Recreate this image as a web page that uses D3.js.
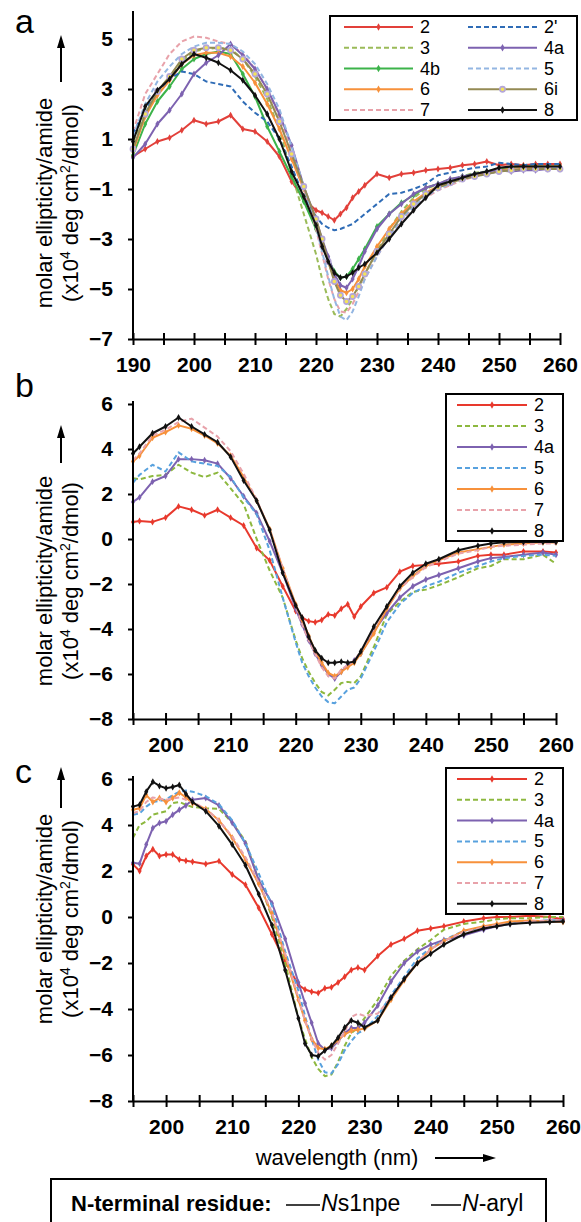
<!DOCTYPE html>
<html>
<head>
<meta charset="utf-8">
<script src="https://cdn.jsdelivr.net/npm/d3@7"></script>
<style>
  body { margin: 0; background: #fff; }
  svg text { font-family: "Liberation Sans", Arial, sans-serif; }
</style>
</head>
<body>
<svg id="chart" width="581" height="1222"></svg>
<script>
// ---- panel a (wavelength in nm, ellipticity in 10^4 deg cm2/dmol) ----
const aWl = [190,192,194,196,198,200,202,204,206,208,210,212,214,216,218,220,221,222,223,224,225,226,227,228,230,232,234,236,238,240,242,244,246,248,250,252,254,256,258,260];
const aNames = ["2", "2'", "3", "4a", "4b", "5", "6", "6i", "7", "8"];
const a2   = [0.3,0.6,0.9,1.05,1.35,1.75,1.6,1.7,1.95,1.4,1.3,0.9,0.3,-0.7,-1.4,-1.85,-1.95,-2.1,-2.25,-2.0,-1.75,-1.35,-1.1,-0.85,-0.4,-0.55,-0.4,-0.35,-0.25,-0.2,-0.15,-0.05,0.0,0.1,-0.05,0.0,-0.05,0.0,0.0,0.0];
const a2p  = [1.2,2.2,2.9,3.4,3.7,3.6,3.3,3.2,3.1,2.5,2.05,1.7,1.0,-0.1,-1.3,-2.1,-2.4,-2.55,-2.65,-2.6,-2.5,-2.4,-2.2,-2.0,-1.6,-1.2,-1.15,-1.0,-0.8,-0.45,-0.35,-0.25,-0.15,-0.1,0.05,0.0,-0.05,0.0,0.0,0.0];
const a3   = [0.9,2.0,2.9,3.5,4.1,4.5,4.6,4.65,4.6,4.2,3.5,2.6,1.4,-0.4,-2.0,-3.6,-4.6,-5.4,-6.0,-6.1,-5.8,-5.4,-4.9,-4.4,-3.5,-2.6,-1.9,-1.35,-1.0,-0.8,-0.6,-0.5,-0.35,-0.3,-0.2,-0.15,-0.15,-0.1,-0.1,-0.1];
const a4a  = [0.25,0.8,1.6,2.15,2.8,3.6,4.05,4.35,4.8,4.35,3.8,3.0,2.0,0.75,-0.9,-2.2,-3.0,-3.7,-4.4,-4.85,-4.95,-4.6,-4.1,-3.5,-2.6,-2.0,-1.6,-1.2,-0.95,-0.8,-0.6,-0.5,-0.4,-0.3,-0.25,-0.3,-0.25,-0.25,-0.2,-0.2];
const a4b  = [0.35,1.6,2.5,3.1,3.8,4.2,4.4,4.5,4.4,3.6,2.7,1.5,0.5,-0.5,-1.5,-2.6,-3.2,-3.8,-4.3,-4.55,-4.5,-4.2,-3.8,-3.4,-2.5,-2.0,-1.55,-1.25,-0.95,-0.8,-0.65,-0.5,-0.4,-0.3,-0.2,-0.15,-0.1,-0.1,-0.1,-0.1];
const a5   = [1.1,2.4,3.3,3.9,4.4,4.7,4.85,4.85,4.8,4.5,4.0,3.2,2.2,0.7,-0.9,-2.5,-3.5,-4.5,-5.4,-6.1,-6.25,-5.9,-5.3,-4.6,-3.7,-2.9,-2.2,-1.7,-1.3,-1.0,-0.8,-0.6,-0.5,-0.4,-0.3,-0.25,-0.2,-0.2,-0.15,-0.15];
const a6   = [0.5,1.9,2.75,3.35,4.0,4.35,4.45,4.45,4.3,3.9,3.25,2.4,1.4,0.2,-1.0,-2.3,-3.1,-3.9,-4.6,-5.05,-5.15,-5.0,-4.6,-4.1,-3.3,-2.6,-2.0,-1.5,-1.15,-0.9,-0.7,-0.55,-0.45,-0.35,-0.25,-0.2,-0.15,-0.1,-0.1,-0.1];
const a6i  = [0.6,2.0,2.9,3.5,4.2,4.55,4.65,4.65,4.55,4.2,3.6,2.8,1.7,0.4,-0.9,-2.2,-3.0,-3.9,-4.7,-5.25,-5.5,-5.3,-4.9,-4.4,-3.5,-2.8,-2.1,-1.6,-1.2,-0.95,-0.75,-0.6,-0.5,-0.4,-0.3,-0.25,-0.2,-0.2,-0.2,-0.2];
const a7   = [1.3,2.8,3.6,4.4,4.9,5.1,5.05,4.9,4.8,4.4,3.8,3.0,1.9,0.5,-1.0,-2.6,-3.6,-4.6,-5.4,-5.9,-5.95,-5.6,-5.1,-4.6,-3.7,-2.9,-2.25,-1.75,-1.35,-1.05,-0.85,-0.65,-0.5,-0.4,-0.3,-0.25,-0.2,-0.2,-0.15,-0.15];
const a8   = [0.9,2.3,2.95,3.4,4.0,4.4,4.25,4.05,3.75,3.35,2.75,2.0,1.0,-0.3,-1.3,-2.45,-3.3,-3.9,-4.35,-4.55,-4.5,-4.35,-4.15,-4.0,-3.55,-3.0,-2.4,-1.85,-1.35,-0.85,-0.7,-0.55,-0.4,-0.3,-0.15,-0.1,-0.1,-0.1,-0.1,-0.1];
const aYTicks = [5, 3, 1, -1, -3, -5, -7];

// ---- panel b ----
const bWl = [195,196,198,200,202,204,206,208,210,212,214,216,218,220,221,222,223,224,225,226,227,228,229,230,232,234,236,238,240,242,245,248,250,252,255,258,260];
const bNames = ["2", "3", "4a", "5", "6", "7", "8"];
const b2  = [0.76,0.8,0.76,0.95,1.45,1.3,1.05,1.3,0.95,0.6,-0.4,-0.95,-2.1,-3.2,-3.5,-3.65,-3.7,-3.6,-3.35,-3.4,-3.1,-2.9,-3.45,-3.0,-2.4,-2.15,-1.45,-1.2,-1.15,-1.1,-1.0,-0.75,-0.7,-0.7,-0.55,-0.55,-0.6];
const b3  = [2.7,2.65,2.8,2.85,3.3,2.95,2.75,2.95,2.25,1.55,0.0,-1.4,-2.6,-4.5,-5.3,-5.9,-6.4,-6.8,-6.95,-6.7,-6.4,-6.35,-6.4,-6.1,-4.8,-3.35,-2.8,-2.35,-2.25,-2.05,-1.7,-1.3,-1.2,-0.9,-0.9,-0.7,-1.1];
const b4a = [1.65,1.85,2.55,2.8,3.55,3.55,3.5,3.35,2.7,1.9,1.15,-0.1,-1.5,-3.1,-3.8,-4.5,-5.1,-5.6,-6.0,-6.2,-5.9,-5.6,-5.4,-5.1,-4.1,-3.3,-2.6,-2.1,-1.8,-1.6,-1.3,-1.0,-0.85,-0.8,-0.7,-0.6,-0.7];
const b5  = [2.5,2.85,3.3,3.0,3.85,3.45,3.35,3.25,2.75,1.85,1.1,-0.5,-2.6,-4.6,-5.5,-6.1,-6.6,-7.0,-7.25,-7.3,-7.0,-6.7,-6.6,-6.2,-5.0,-3.7,-2.9,-2.4,-2.1,-1.9,-1.5,-1.2,-1.0,-0.85,-0.75,-0.7,-0.75];
const b6  = [3.45,3.7,4.5,4.75,5.05,4.9,4.6,4.25,3.7,2.75,1.7,0.45,-1.3,-2.9,-3.6,-4.3,-5.0,-5.5,-5.95,-6.1,-5.9,-5.7,-5.5,-5.1,-4.2,-3.1,-2.2,-1.65,-1.2,-0.95,-0.6,-0.45,-0.35,-0.25,-0.2,-0.15,-0.15];
const b7  = [3.5,3.8,4.6,4.85,5.2,5.35,4.95,4.55,3.9,2.9,1.75,0.4,-1.3,-3.0,-3.8,-4.5,-5.1,-5.7,-6.1,-6.2,-5.8,-5.6,-5.4,-5.0,-4.0,-3.0,-2.2,-1.7,-1.25,-1.0,-0.65,-0.5,-0.35,-0.3,-0.25,-0.2,-0.2];
const b8  = [3.8,4.1,4.7,5.0,5.4,5.0,4.65,4.3,3.65,2.6,1.7,0.4,-1.5,-2.95,-3.5,-4.35,-4.95,-5.3,-5.5,-5.5,-5.45,-5.5,-5.45,-5.0,-3.9,-3.0,-2.1,-1.5,-1.1,-0.9,-0.5,-0.3,-0.2,-0.15,-0.13,-0.13,-0.13];

// ---- panel c ----
const cWl = [195,196,197,198,199,200,201,202,203,204,206,208,210,212,214,216,218,220,221,222,223,224,225,226,227,228,229,230,232,234,236,238,240,242,245,248,250,252,255,258,260];
const cNames = ["2", "3", "4a", "5", "6", "7", "8"];
const c2  = [2.29,2.0,2.65,2.95,2.65,2.72,2.72,2.5,2.45,2.4,2.3,2.43,1.85,1.4,0.4,-0.75,-1.95,-2.95,-3.15,-3.25,-3.3,-3.1,-3.05,-2.85,-2.6,-2.3,-2.2,-2.3,-1.7,-1.2,-0.95,-0.6,-0.5,-0.4,-0.2,-0.05,0.0,0.0,0.05,0.0,-0.1];
const c3  = [3.44,4.0,4.16,4.45,4.52,4.6,4.95,5.0,4.88,4.78,4.73,4.7,4.1,3.3,1.6,0.0,-2.0,-4.4,-5.3,-6.1,-6.6,-6.92,-6.85,-6.3,-5.6,-5.05,-4.8,-4.4,-3.6,-2.55,-1.9,-1.4,-1.0,-0.55,-0.3,-0.2,-0.1,-0.05,-0.05,0.0,0.0];
const c4a = [2.36,2.32,3.15,3.87,4.09,4.16,4.45,4.66,4.85,5.1,5.17,4.85,4.1,3.2,1.6,0.6,-0.95,-2.85,-3.75,-4.6,-5.5,-5.77,-5.7,-5.4,-5.05,-4.83,-4.83,-4.6,-3.85,-2.8,-2.0,-1.5,-1.2,-1.0,-0.8,-0.55,-0.4,-0.3,-0.2,-0.15,-0.15];
const c5  = [4.45,4.5,4.8,5.0,5.05,5.1,5.3,5.45,5.5,5.45,5.25,4.9,4.2,3.2,1.9,0.5,-1.5,-3.2,-4.3,-5.3,-6.2,-6.75,-6.8,-6.4,-5.8,-5.4,-5.05,-4.9,-4.3,-3.4,-2.6,-1.8,-1.35,-1.0,-0.6,-0.45,-0.35,-0.3,-0.2,-0.15,-0.15];
const c6  = [4.66,4.73,5.3,5.0,5.17,5.0,5.17,5.4,5.2,4.95,4.7,4.2,3.45,2.5,1.45,0.15,-1.7,-3.6,-4.5,-5.3,-5.7,-5.75,-5.6,-5.35,-5.1,-4.95,-4.9,-4.85,-4.5,-3.6,-2.75,-2.0,-1.4,-1.05,-0.6,-0.4,-0.3,-0.2,-0.15,-0.2,-0.22];
const c7  = [4.52,4.6,5.0,5.2,5.15,5.1,5.15,5.2,5.1,5.0,4.7,4.2,3.5,2.6,1.5,0.2,-1.6,-3.5,-4.5,-5.3,-5.9,-6.2,-6.0,-5.5,-5.0,-4.35,-4.2,-4.3,-4.2,-3.5,-2.7,-1.95,-1.4,-1.05,-0.65,-0.45,-0.35,-0.3,-0.2,-0.15,-0.15];
const c8  = [4.8,4.88,5.45,5.88,5.7,5.6,5.65,5.74,5.35,5.0,4.6,3.95,3.15,2.25,1.0,-0.35,-2.3,-4.4,-5.5,-6.0,-6.05,-5.8,-5.6,-5.25,-4.8,-4.5,-4.6,-4.8,-4.5,-3.5,-2.7,-2.0,-1.6,-1.2,-0.75,-0.5,-0.4,-0.3,-0.25,-0.22,-0.2];
const bcYTicks = [6, 4, 2, 0, -2, -4, -6, -8];

// ---- styles (per series name) ----
const styleA = {
  "2":  { color: "#e2403a", marker: "diamond" },
  "2'": { color: "#2f6cb6", dash: "5,3" },
  "3":  { color: "#9bbb59", dash: "5,3" },
  "4a": { color: "#7d62b0", marker: "diamond" },
  "4b": { color: "#3cb34a", marker: "diamond" },
  "5":  { color: "#93b6e2", dash: "5,3" },
  "6":  { color: "#f7913b", marker: "diamond" },
  "6i": { color: "#948a54", marker: "circle" },
  "7":  { color: "#e8a2aa", dash: "5,3" },
  "8":  { color: "#111111", marker: "diamond" }
};
const styleBC = Object.assign({}, styleA, {
  "2": { color: "#e8392d", marker: "diamond" },
  "3": { color: "#8db83f", dash: "5,3" },
  "5": { color: "#58a1de", dash: "5,3" }
});

const svg = d3.select("#chart");

function drawPanel(p) {
  const x = d3.scaleLinear().domain(p.xDomain).range(p.xRange);
  const y = d3.scaleLinear().domain(p.yDomain).range(p.yRange);
  const g = svg.append("g");

  const line = d3.line()
    .x((d, i) => x(p.wl[i]))
    .y(d => y(d));

  p.names.forEach((name, k) => {
    const st = p.styles[name];
    const vals = p.values[k];
    g.append("path")
      .attr("d", line(vals))
      .attr("fill", "none")
      .attr("stroke", st.color)
      .attr("stroke-width", 2)
      .attr("stroke-linejoin", "round")
      .attr("stroke-dasharray", st.dash || null);
    if (st.marker == "diamond") {
      g.selectAll(null).data(vals).enter().append("path")
        .attr("d", d3.symbol().type(d3.symbolDiamond).size(14))
        .attr("transform", (d, i) => "translate(" + x(p.wl[i]) + "," + y(d) + ")")
        .attr("fill", st.color);
    } else if (st.marker == "circle") {
      g.selectAll(null).data(vals).enter().append("circle")
        .attr("cx", (d, i) => x(p.wl[i]))
        .attr("cy", d => y(d))
        .attr("r", 2.6)
        .attr("fill", "#f3e35a")
        .attr("stroke", "#b4a6d8")
        .attr("stroke-width", 1.6);
    }
  });

  // y axis
  const yAxis = d3.axisLeft(y).tickValues(p.yTicks).tickSize(5).tickPadding(15).tickSizeOuter(0);
  const ya = g.append("g").attr("transform", "translate(" + p.xRange[0] + ",0)").call(yAxis);
  ya.select(".domain").remove();
  ya.selectAll(".tick line").attr("stroke", "#000").attr("stroke-width", 2);
  ya.selectAll("text").attr("font-size", 21).attr("font-weight", "bold").attr("fill", "#000")
    .attr("font-family", '"Liberation Sans", Arial, sans-serif');
  g.append("line")
    .attr("x1", p.xRange[0]).attr("x2", p.xRange[0])
    .attr("y1", p.yRange[1] - 3).attr("y2", p.yRange[0])
    .attr("stroke", "#000").attr("stroke-width", 2);

  // x axis
  const xAxis = d3.axisBottom(x)
    .tickValues(d3.range(p.xDomain[0], p.xDomain[1] + 1, 5))
    .tickFormat(d => d % 10 == 0 ? d : "")
    .tickSize(6).tickPadding(12).tickSizeOuter(0);
  const xa = g.append("g").attr("transform", "translate(0," + p.yRange[0] + ")").call(xAxis);
  xa.select(".domain").attr("stroke", "#000").attr("stroke-width", 2);
  xa.selectAll(".tick line").attr("y1", -6).attr("y2", 6).attr("stroke", "#000").attr("stroke-width", 2);
  xa.selectAll("text").attr("font-size", 21).attr("font-weight", "bold").attr("fill", "#000")
    .attr("font-family", '"Liberation Sans", Arial, sans-serif');

  // panel letter
  svg.append("text").attr("x", p.letterPos[0]).attr("y", p.letterPos[1])
    .attr("font-size", 34).text(p.letter);

  // y title with arrow
  const t = svg.append("g").attr("transform", "translate(0," + p.titleY + ") rotate(-90)");
  t.append("text").attr("x", 0).attr("y", 52).attr("text-anchor", "middle")
    .attr("font-size", 22).text("molar ellipticity/amide");
  const t2 = t.append("text").attr("x", 0).attr("y", 78).attr("text-anchor", "middle").attr("font-size", 22);
  t2.append("tspan").text("(x10");
  t2.append("tspan").attr("dy", -8).attr("font-size", 14).text("4");
  t2.append("tspan").attr("dy", 8).text(" deg cm");
  t2.append("tspan").attr("dy", -8).attr("font-size", 14).text("2");
  t2.append("tspan").attr("dy", 8).text("/dmol)");

  svg.append("line").attr("x1", 61).attr("x2", 61)
    .attr("y1", p.arrow[1]).attr("y2", p.arrow[0] + 8)
    .attr("stroke", "#000").attr("stroke-width", 2);
  svg.append("path")
    .attr("d", "M" + 61 + "," + p.arrow[0] + "l-4,13l8,0z")
    .attr("fill", "#000");

  // legend
  const lg = svg.append("g");
  lg.append("rect")
    .attr("x", p.legend.x).attr("y", p.legend.y)
    .attr("width", p.legend.w).attr("height", p.legend.h)
    .attr("fill", "#fff").attr("stroke", "#000").attr("stroke-width", 2);
  p.names.forEach((name, k) => {
    const st = p.styles[name];
    const col = Math.floor(k / p.legend.rows);
    const row = k % p.legend.rows;
    const ly = p.legend.row0 + row * p.legend.dy;
    const lx = p.legend.cols[col];
    lg.append("line")
      .attr("x1", lx).attr("x2", lx + p.legend.lineLen)
      .attr("y1", ly).attr("y2", ly)
      .attr("stroke", st.color).attr("stroke-width", 2)
      .attr("stroke-dasharray", st.dash || null);
    const mx = lx + p.legend.lineLen / 2;
    if (st.marker == "diamond") {
      lg.append("path").attr("d", d3.symbol().type(d3.symbolDiamond).size(16))
        .attr("transform", "translate(" + mx + "," + ly + ")").attr("fill", st.color);
    } else if (st.marker == "circle") {
      lg.append("circle").attr("cx", mx).attr("cy", ly).attr("r", 2.6)
        .attr("fill", "#f3e35a").attr("stroke", "#b4a6d8").attr("stroke-width", 1.6);
    }
    lg.append("text").attr("x", lx + p.legend.lineLen + 7).attr("y", ly + 6)
      .attr("font-size", 18).text(name);
  });
}

// panel a: legend order runs across rows, so arrange names column-wise
drawPanel({
  letter: "a", letterPos: [15, 33],
  wl: aWl,
  names: ["2", "3", "4b", "6", "7", "2'", "4a", "5", "6i", "8"],
  values: [a2, a3, a4b, a6, a7, a2p, a4a, a5, a6i, a8],
  styles: styleA,
  xDomain: [190, 260], xRange: [133, 560],
  yDomain: [-7, 6], yRange: [339, 14],
  yTicks: aYTicks,
  titleY: 203, arrow: [35, 82],
  legend: { x: 330, y: 16, w: 247, h: 104, rows: 5, row0: 27, dy: 20.75, cols: [344, 468], lineLen: 69 }
});

drawPanel({
  letter: "b", letterPos: [15, 397],
  wl: bWl,
  names: bNames,
  values: [b2, b3, b4a, b5, b6, b7, b8],
  styles: styleBC,
  xDomain: [195, 260], xRange: [133, 556],
  yDomain: [-8, 6], yRange: [719, 404],
  yTicks: bcYTicks,
  titleY: 581, arrow: [425, 463],
  legend: { x: 446, y: 394, w: 117, h: 147, rows: 7, row0: 405, dy: 21, cols: [457], lineLen: 70 }
});

drawPanel({
  letter: "c", letterPos: [15, 783],
  wl: cWl,
  names: cNames,
  values: [c2, c3, c4a, c5, c6, c7, c8],
  styles: styleBC,
  xDomain: [195, 260], xRange: [133, 563],
  yDomain: [-8, 6], yRange: [1101, 779],
  yTicks: bcYTicks,
  titleY: 919, arrow: [767, 808],
  legend: { x: 446, y: 768, w: 117, h: 146, rows: 7, row0: 779, dy: 20.8, cols: [457], lineLen: 70 }
});

// x title
svg.append("text").attr("x", 337).attr("y", 1165).attr("text-anchor", "middle")
  .attr("font-size", 22).text("wavelength (nm)");
svg.append("line").attr("x1", 435).attr("x2", 486).attr("y1", 1158).attr("y2", 1158)
  .attr("stroke", "#000").attr("stroke-width", 2);
svg.append("path").attr("d", "M496,1158l-13,-4l0,8z").attr("fill", "#000");

// bottom key box
const key = svg.append("g");
key.append("rect").attr("x", 51).attr("y", 1179).attr("width", 495).attr("height", 70)
  .attr("fill", "#fff").attr("stroke", "#000").attr("stroke-width", 2);
key.append("text").attr("x", 71).attr("y", 1211).attr("font-size", 22).attr("font-weight", "bold")
  .text("N-terminal residue:");
key.append("line").attr("x1", 286).attr("x2", 320).attr("y1", 1205).attr("y2", 1205)
  .attr("stroke", "#000").attr("stroke-width", 1.5);
const k1 = key.append("text").attr("x", 321).attr("y", 1211).attr("font-size", 23);
k1.append("tspan").attr("font-style", "italic").text("N");
k1.append("tspan").text("s1npe");
key.append("line").attr("x1", 431).attr("x2", 461).attr("y1", 1205).attr("y2", 1205)
  .attr("stroke", "#000").attr("stroke-width", 1.5);
const k2 = key.append("text").attr("x", 462).attr("y", 1211).attr("font-size", 23);
k2.append("tspan").attr("font-style", "italic").text("N");
k2.append("tspan").text("-aryl");
</script>
</body>
</html>
